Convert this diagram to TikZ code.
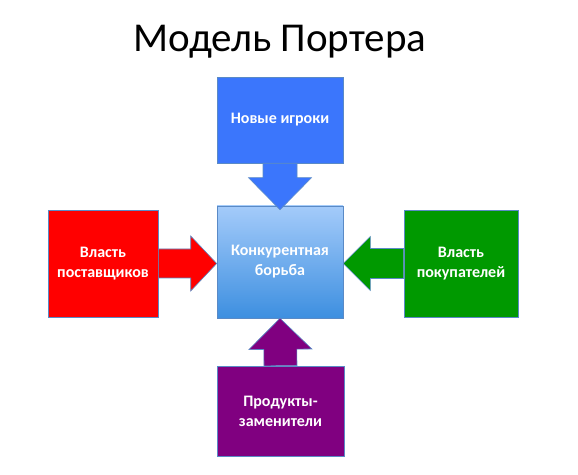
\documentclass[tikz,border=0pt]{standalone}
\usepackage{fontspec}
\setmainfont{Carlito}
\usepackage{tikz}
\usetikzlibrary{calc, positioning}

\definecolor{edgeblue}{RGB}{90,138,198}
\definecolor{entrantblue}{RGB}{59,118,252}
\definecolor{rivaltop}{RGB}{164,203,250}
\definecolor{rivalbottom}{RGB}{61,143,224}
\definecolor{supplyred}{RGB}{255,0,0}
\definecolor{buyergreen}{RGB}{0,153,0}
\definecolor{substpurple}{RGB}{128,0,128}

%% block arrow: start, tip, shaft half width, head half width, head length, colour
\newcommand{\forcearrow}[6]{%
	\coordinate (fa-h) at ($(#2)!#5!(#1)$);
	\filldraw [fill=#6, draw=edgeblue, line width=0.6pt]
		($(#1)!#3!90:(#2)$) -- ($(fa-h)!#3!90:(#2)$) -- ($(fa-h)!#4!90:(#2)$) -- (#2)
		-- ($(fa-h)!#4!-90:(#2)$) -- ($(fa-h)!#3!-90:(#2)$) -- ($(#1)!#3!-90:(#2)$) -- cycle;
}

\begin{document}
\begin{tikzpicture}[x=1pt, y=1pt]
			\tikzstyle{forcebox}=[draw=edgeblue, line width=0.6pt, inner sep=0pt, text=white, align=center, font=\fontsize{16}{20}\selectfont\bfseries]
			
			\useasboundingbox (0,0) rectangle (578,474);
			
			\node (title) at (280,422) [anchor=base, font=\fontsize{41}{48}\selectfont] {Модель Портера};
			
			\node (entrants) at (280,354) [forcebox, minimum width=126, minimum height=86, fill=entrantblue] {Новые игроки};
			\node (supply) at (103,210.5) [forcebox, minimum width=110, minimum height=107, fill=supplyred] {Власть\\поставщиков};
			\node (buyers) at (461,210.5) [forcebox, minimum width=114, minimum height=107, fill=buyergreen] {Власть\\покупателей};
			\node (substitutes) at (280.5,63) [forcebox, minimum width=127, minimum height=90, fill=substpurple] {Продукты-\\заменители};
			\node (rivalry) at (280,212) [forcebox, minimum width=126, minimum height=112, top color=rivaltop, bottom color=rivalbottom] {Конкурентная\\борьба};
			
			\coordinate (in-n) at ($(rivalry.north)+(0,-4)$);
			\coordinate (in-w) at (rivalry.west |- supply.east);
			\coordinate (in-e) at (rivalry.east |- buyers.west);
			
			\forcearrow{entrants.south}{in-n}{17pt}{31.5pt}{32pt}{entrantblue}
			\forcearrow{supply.east}{in-w}{14.5pt}{27.5pt}{26pt}{supplyred}
			\forcearrow{buyers.west}{in-e}{15pt}{27pt}{27pt}{buyergreen}
			\forcearrow{substitutes.north}{rivalry.south}{16.5pt}{31.5pt}{31pt}{substpurple}
\end{tikzpicture}
\end{document}
